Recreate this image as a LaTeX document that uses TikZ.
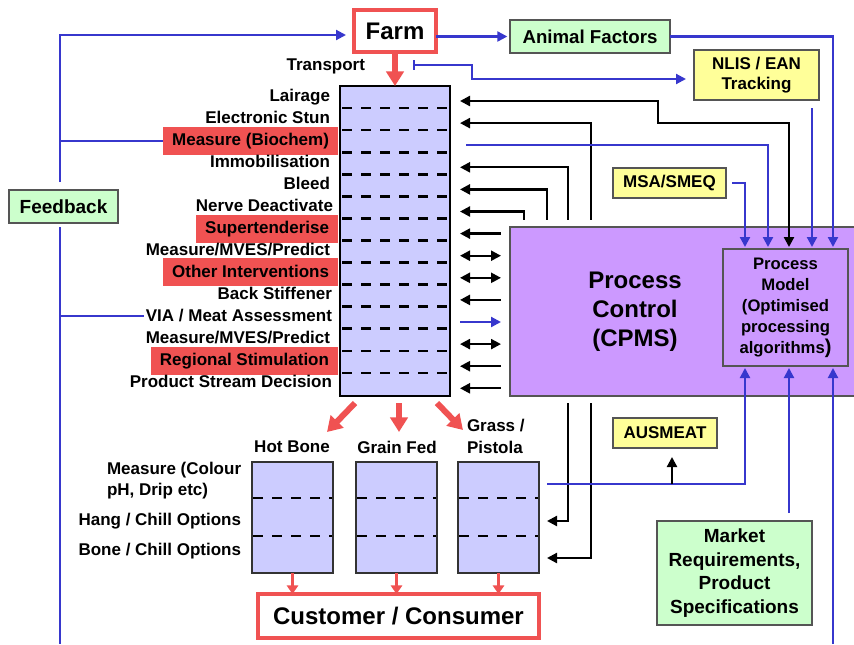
\documentclass[tikz,border=0pt]{standalone}
\usepackage{fontspec}
\setmainfont{Liberation Sans}
\usetikzlibrary{arrows.meta}

\definecolor{flagred}{RGB}{240,82,82}
\definecolor{wire}{RGB}{55,55,205}
\definecolor{lav}{RGB}{204,204,255}
\definecolor{violet}{RGB}{204,153,255}
\definecolor{mint}{RGB}{204,255,204}
\definecolor{lemon}{RGB}{255,255,153}
\definecolor{rim}{RGB}{85,85,85}

\tikzset{
  every node/.style={inner sep=0pt, outer sep=0pt},
  f17/.style={font=\bfseries\fontsize{12.75pt}{15pt}\selectfont},
  stage/.style={f17, anchor=base east},
  flag/.style={stage, fill=flagred, inner xsep=6.75pt, minimum height=21pt},
  panel/.style={draw=rim, line width=0.9pt, align=center},
  tank/.style={draw=black!80, fill=lav, line width=1.2pt},
  dashrow/.style={line width=2pt, dash pattern=on 7.5pt off 6.75pt},
  blk/.style={line width=1.7pt, black},
  blu/.style={line width=1.6pt, wire},
  Hd/.tip={Triangle[length=7.5pt, width=7.5pt]},
  flow/.style={draw=flagred, line width=4.5pt, -{Triangle[length=11pt,width=13pt]}},
  drop/.style={draw=flagred, line width=2.25pt, -{Triangle[length=6.5pt,width=8.5pt]}},
}

\begin{document}
\begin{tikzpicture}[x=0.75pt, y=-0.75pt]
\useasboundingbox (0,0) rectangle (854,644);
\fill[white] (0,0) rectangle (854,644);

% processing chain column
\node[draw=black, fill=lav, line width=2pt, minimum width=82.5pt, minimum height=232.5pt] (col) at (395,241) {};
\foreach \i in {1,...,13} \draw[dashrow] (342,{86+22.07*\i}) -- (448,{86+22.07*\i});

% stage names
\node[stage] (l0)  at (330,101.0) {Lairage};
\node[stage] (l1)  at (330,123.1) {Electronic Stun};
\node[flag]  (l2)  at (338,145.1) {Measure (Biochem)};
\node[stage] (l3)  at (330,167.2) {Immobilisation};
\node[stage] (l4)  at (330,189.3) {Bleed};
\node[stage] (l5)  at (333,211.4) {Nerve Deactivate};
\node[flag]  (l6)  at (338,233.4) {Supertenderise};
\node[stage] (l7)  at (330,255.5) {Measure/MVES/Predict};
\node[flag]  (l8)  at (338,277.6) {Other Interventions};
\node[stage] (l9)  at (332,299.6) {Back Stiffener};
\node[stage] (l10) at (332,321.7) {VIA / Meat Assessment};
\node[stage] (l11) at (330,343.8) {Measure/MVES/Predict};
\node[flag]  (l12) at (338,365.8) {Regional Stimulation};
\node[stage] (l13) at (332,387.9) {Product Stream Decision};
\node[f17, anchor=base east] (trans) at (365,70) {Transport};

% row ends beside the column
\foreach \i in {0,...,13} \coordinate (r\i) at (460,{101+22.1*\i});

% links that run behind the control block
\draw[blk, Hd-Hd] (r1) -| (591,558) -- (547,558);
\draw[blk, Hd-Hd] (r3) -| (568,521) -- (547,521);
\draw[blk, Hd-] (r4) -| (547,232);
\draw[blk, Hd-] (r5) -| (524,232);

% process control block
\node[fill=violet, draw=rim, line width=0.9pt, preaction={draw=white, line width=11pt},
      minimum width=261pt, minimum height=126.75pt] (pc) at (684,311.5) {};
\node[font=\bfseries\fontsize{18pt}{21.75pt}\selectfont, align=center] (pctext) at (635,312) {Process\\Control\\(CPMS)};
\node[panel, fill=violet, minimum width=93.75pt, minimum height=87.75pt,
      font=\bfseries\fontsize{12.5pt}{15.75pt}\selectfont] (pm) at (785.5,307.5)
      {Process\\Model\\(Optimised\\processing\\algorithms{\fontsize{15pt}{15pt}\selectfont)}};

% short links between column and control block
\foreach \i in {6,9,12,13} \draw[blk, Hd-] (r\i) -- ++(41,0);
\foreach \i in {7,8,11} \draw[blk, Hd-Hd] (r\i) -- ++(41,0);
\draw[blu, -Hd] (r10) -- ++(41,0);

% top boxes
\node[draw=flagred, fill=white, line width=2.6pt, minimum width=61.5pt, minimum height=31.5pt,
      font=\bfseries\fontsize{18pt}{20pt}\selectfont] (farm) at (395,31) {Farm};
\node[panel, fill=mint, minimum width=120pt, minimum height=24.75pt,
      font=\bfseries\fontsize{14pt}{16pt}\selectfont] (af) at (590,36.5) {Animal Factors};
\node[panel, fill=lemon, minimum width=93.75pt, minimum height=37.5pt,
      font=\bfseries\fontsize{12.75pt}{15pt}\selectfont] (nlis) at (756.5,75) {NLIS / EAN\\Tracking};
\node[panel, fill=lemon, minimum width=84.75pt, minimum height=22.5pt, f17] (msa) at (669.5,183) {MSA/SMEQ};
\node[panel, fill=mint, minimum width=81.75pt, minimum height=24.75pt,
      font=\bfseries\fontsize{14.25pt}{16pt}\selectfont] (fb) at (63.5,206.5) {Feedback};

% links into the process model from above
\draw[blk, Hd-Hd] (r0) -- (658,101) -- (658,123) -- (789,123) -- (789,247);
\draw[blu, -Hd] (466,145.2) -| (768,247);
\draw[blu, -Hd] ([xshift=4.5pt]msa.east) -| (745,247);
\draw[blu, -Hd] (812,108) -- (812,247);
\draw[blu, -Hd] (af.east) -| (833,247);
\draw[blu, -Hd] (farm.east |- af.west) -- ([xshift=-2pt]af.west);
\draw[blu, {Bar[width=7pt]}-Hd] (413,65) -- (472,65) -- (472,79) -- (686,79);

% feedback loop
\coordinate (fbx) at (60,0);
\coordinate (fbtop) at (60,182);
\coordinate (fbbot) at (60,227);
\coordinate (fbend) at (60,644);
\draw[blu, -Hd] (fbtop) -- (60,35) -- (346,35);
\draw[blu] (fbbot) -- (fbend);
\draw[blu] (l2.west) -- (l2.west -| fbx);
\draw[blu] ([xshift=-1.5pt]l10.west) -- (l10.west -| fbx);

% product streams
\node[tank, minimum width=60.75pt, minimum height=83.25pt] (hb) at (292.5,517.5) {};
\node[tank, minimum width=60.75pt, minimum height=83.25pt] (gf) at (396.5,517.5) {};
\node[tank, minimum width=60.75pt, minimum height=83.25pt] (gp) at (498.5,517.5) {};
\foreach \xx in {253,357,459} \foreach \yy in {498,536} \draw[dashrow] (\xx,\yy) -- (\xx+79,\yy);
\node[f17] (hbl) at (292,447) {Hot Bone};
\node[f17] (gfl) at (397,447) {Grain Fed};
\node[f17, anchor=west, align=left, font=\bfseries\fontsize{12.75pt}{16.5pt}\selectfont] (gpl) at (467,436) {Grass /\\Pistola};
\node[anchor=west, align=left, font=\bfseries\fontsize{12.75pt}{15.75pt}\selectfont] (ml) at (107,481) {Measure (Colour\\pH, Drip etc)};
\node[f17, anchor=east] (hcl) at (241,521) {Hang / Chill Options};
\node[f17, anchor=east] (bcl) at (241,551) {Bone / Chill Options};

\node[draw=flagred, fill=white, line width=2.6pt, minimum width=210.75pt, minimum height=33pt,
      font=\bfseries\fontsize{18pt}{20pt}\selectfont] (cust) at (398.5,616) {Customer / Consumer};

% lower boxes and links
\node[panel, fill=lemon, minimum width=78pt, minimum height=22.5pt, f17] (ausm) at (665,433) {AUSMEAT};
\node[panel, fill=mint, minimum width=116.25pt, minimum height=78pt,
      font=\bfseries\fontsize{14.25pt}{17.6pt}\selectfont] (mkt) at (734.5,573)
      {Market\\Requirements,\\Product\\Specifications};
\draw[blu, -Hd] (547,484) -| (745,368);
\draw[blk, -Hd] (672,484) -- (672,457);
\draw[blu, -Hd] (789,513) -- (789,368);
\draw[blu, -Hd] (833,644) -- (833,368);

% red flow arrows
\draw[flow] (farm.south) -- (col.north);
\draw[flow] (355,403) -- (327,432);
\draw[flow] (399,403) -- (399,432);
\draw[flow] (437,403) -- (463,430);
\draw[drop] (hb.south) -- (hb.south |- cust.north);
\draw[drop] (gf.south) -- (gf.south |- cust.north);
\draw[drop] (gp.south) -- (gp.south |- cust.north);
\end{tikzpicture}
\end{document}
